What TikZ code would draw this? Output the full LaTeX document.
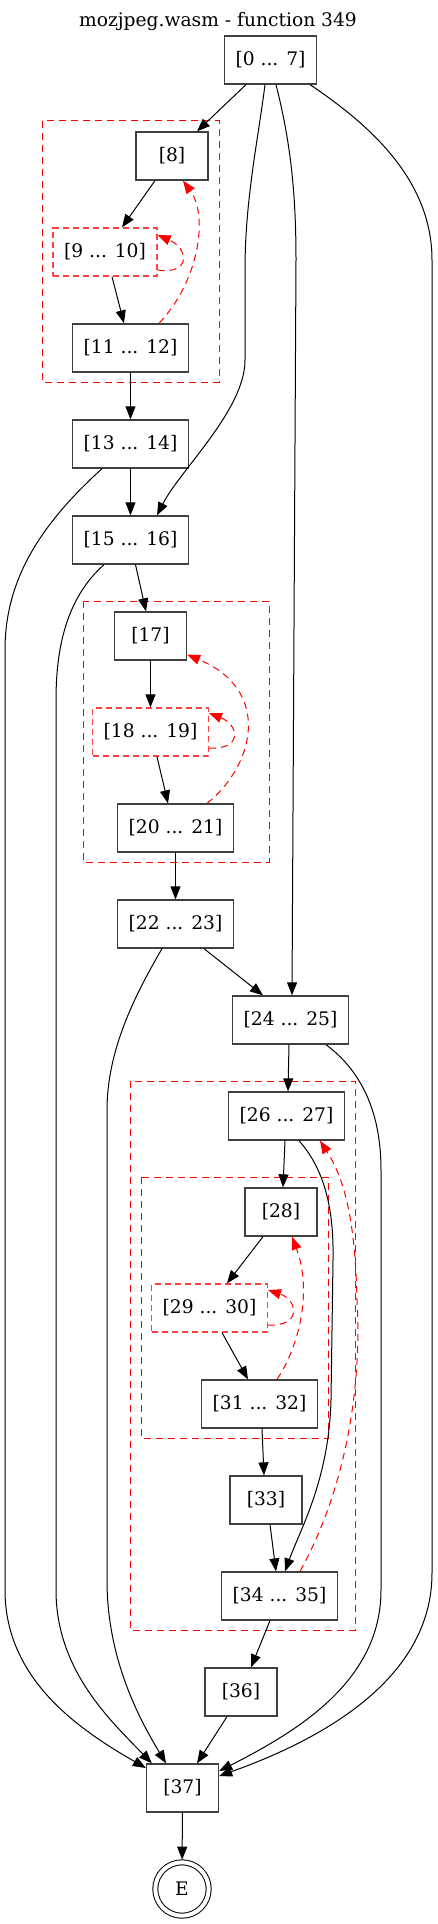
\documentclass[tikz,border=0pt]{standalone}
\usepackage{fontspec}
\setmainfont{DejaVu Serif}
\usetikzlibrary{arrows.meta}
\tikzset{
	blk/.style={draw=black!75, line width=1.3pt, minimum width=72pt, minimum height=48pt, inner xsep=11pt, inner ysep=0pt},
	loopblk/.style={blk, draw=red!75, dash pattern=on 6pt off 4pt},
	edge/.style={line width=1pt, -{Triangle[length=13pt,width=10pt]}},
	back/.style={edge, red, dash pattern=on 7pt off 5pt},
	clus/.style={red, line width=1pt, dash pattern=on 7pt off 5pt},
	endnode/.style={circle, draw, line width=1pt, double, double distance=4pt, minimum size=53.4pt, inner sep=0pt, outer sep=2.6pt}
}
\begin{document}
\begin{tikzpicture}[x=1pt, y=-1pt, font=\fontsize{18.67}{22}\selectfont]
	\useasboundingbox (0,0) rectangle (437,1924);
	\node (title) at (218,21) {mozjpeg.wasm - function 349};
	% loops
	\draw[clus] (42,121) rectangle (219,382);
	\draw[clus] (83,601) rectangle (269,862);
	\draw[clus] (130,1081) rectangle (355,1630);
	\draw[clus] (141,1177) rectangle (328,1438); % inner loop
	% blocks
	\node[blk] (n0) at (270.5,60) {[0 ... 7]};
	\node[blk] (n8) at (172,156) {[8]};
	\node[loopblk] (n9) at (105,252) {[9 ... 10]};
	\node[blk] (n11) at (130.5,348) {[11 ... 12]};
	\node[blk] (n13) at (130.5,444) {[13 ... 14]};
	\node[blk] (n15) at (130.5,540) {[15 ... 16]};
	\node[blk] (n17) at (150.5,636) {[17]};
	\node[loopblk] (n18) at (150.5,732) {[18 ... 19]};
	\node[blk] (n20) at (175.5,828) {[20 ... 21]};
	\node[blk] (n22) at (175.5,924) {[22 ... 23]};
	\node[blk] (n24) at (290.5,1020) {[24 ... 25]};
	\node[blk] (n26) at (286.5,1116) {[26 ... 27]};
	\node[blk] (n28) at (281,1212) {[28]};
	\node[loopblk] (n29) at (209.5,1308) {[29 ... 30]};
	\node[blk] (n31) at (259.5,1404) {[31 ... 32]};
	\node[blk] (n33) at (266,1500) {[33]};
	\node[blk] (n34) at (279.5,1596) {[34 ... 35]};
	\node[blk] (n36) at (241,1692) {[36]};
	\node[blk] (n37) at (182.5,1788) {[37]};
	\node[endnode] (E) at (182,1889) {E};
	% forward edges
	\draw[edge] ([xshift=-24.5pt]n0.south) -- ([xshift=25pt]n8.north);
	\draw[edge] ([xshift=-5.5pt]n0.south) .. controls (258,140) and (245,200) .. (245,270) -- (245,360) .. controls (245,410) and (180,470) .. ([xshift=26.5pt]n15.north);
	\draw[edge] ([xshift=5.5pt]n0.south) .. controls (290,140) and (296,190) .. (296,260) -- ([xshift=1.5pt]n24.north);
	\draw[edge] ([xshift=39.5pt]n0.south) .. controls (370,125) and (432,180) .. (432,260) -- (432,1573) .. controls (432,1680) and (320,1740) .. ([yshift=12pt]n37.east);
	\draw[edge] ([xshift=-17pt]n8.south) -- ([xshift=17pt]n9.north);
	\draw[edge] ([xshift=7pt]n9.south) -- ([xshift=-6.5pt]n11.north);
	\draw[edge] (n11) -- (n13);
	\draw[edge] (n13) -- (n15);
	\draw[edge] ([xshift=-28.5pt]n13.south) .. controls (40,525) and (5,580) .. (5,650) -- (5,1590) .. controls (5,1680) and (80,1730) .. ([yshift=20pt]n37.west);
	\draw[edge] ([xshift=5pt]n15.south) -- ([xshift=-4.5pt]n17.north);
	\draw[edge] ([xshift=-26.5pt]n15.south) .. controls (70,595) and (56,640) .. (56,700) -- (56,1590) .. controls (56,1670) and (110,1720) .. ([xshift=6pt]n37.north west);
	\draw[edge] (n17) -- (n18);
	\draw[edge] ([xshift=6.5pt]n18.south) -- ([xshift=-7.5pt]n20.north);
	\draw[edge] (n20) -- (n22);
	\draw[edge] ([xshift=28.5pt]n22.south) -- ([xshift=-27.5pt]n24.north);
	\draw[edge] ([xshift=-13.5pt]n22.south) .. controls (135,995) and (107,1050) .. (107,1110) -- (107,1580) .. controls (107,1660) and (140,1720) .. ([xshift=-16.5pt]n37.north);
	\draw[edge] ([xshift=-1.5pt]n24.south) -- ([xshift=1.5pt]n26.north);
	\draw[edge] ([xshift=35.5pt]n24.south) .. controls (360,1070) and (381,1110) .. (381,1170) -- (381,1590) .. controls (381,1680) and (300,1730) .. ([yshift=17pt]n37.east);
	\draw[edge] ([xshift=-1.5pt]n26.south) -- ([xshift=2pt]n28.north);
	\draw[edge] ([xshift=12.5pt]n26.south) .. controls (325,1170) and (334,1210) .. (333,1260) -- (331,1400) .. controls (329,1480) and (300,1530) .. ([xshift=5.5pt]n34.north);
	\draw[edge] ([xshift=-18pt]n28.south) -- ([xshift=17.5pt]n29.north);
	\draw[edge] ([xshift=12.5pt]n29.south) -- ([xshift=-11.5pt]n31.north);
	\draw[edge] ([xshift=2.5pt]n31.south) -- ([xshift=-2pt]n33.north);
	\draw[edge] ([xshift=4pt]n33.south) -- ([xshift=-3.5pt]n34.north);
	\draw[edge] ([xshift=-9.5pt]n34.south) -- ([xshift=10pt]n36.north);
	\draw[edge] ([xshift=-14pt]n36.south) -- ([xshift=14.5pt]n37.north);
	\draw[edge] (n37) -- (E);
	% back edges
	\draw[back] ([yshift=-18pt]n9.east) .. controls (192,275) and (188,248) .. ([yshift=17pt]n9.east);
	\draw[back] ([xshift=28.5pt]n11.north) .. controls (200,280) and (208,215) .. ([xshift=11pt]n8.south);
	\draw[back] ([yshift=-16pt]n18.east) .. controls (243,750) and (239,725) .. ([yshift=19pt]n18.east);
	\draw[back] ([xshift=31.5pt]n20.north) .. controls (255,765) and (272,690) .. ([yshift=6pt]n17.south east);
	\draw[back] ([yshift=-17pt]n29.east) .. controls (302,1327) and (298,1300) .. ([yshift=18pt]n29.east);
	\draw[back] ([xshift=17.5pt]n31.north) .. controls (300,1345) and (312,1290) .. ([xshift=11pt]n28.south);
	\draw[back] ([xshift=20.5pt]n34.north) .. controls (345,1490) and (362,1390) .. (357,1300) .. controls (355,1220) and (345,1180) .. ([xshift=33.5pt]n26.south);
\end{tikzpicture}
\end{document}
